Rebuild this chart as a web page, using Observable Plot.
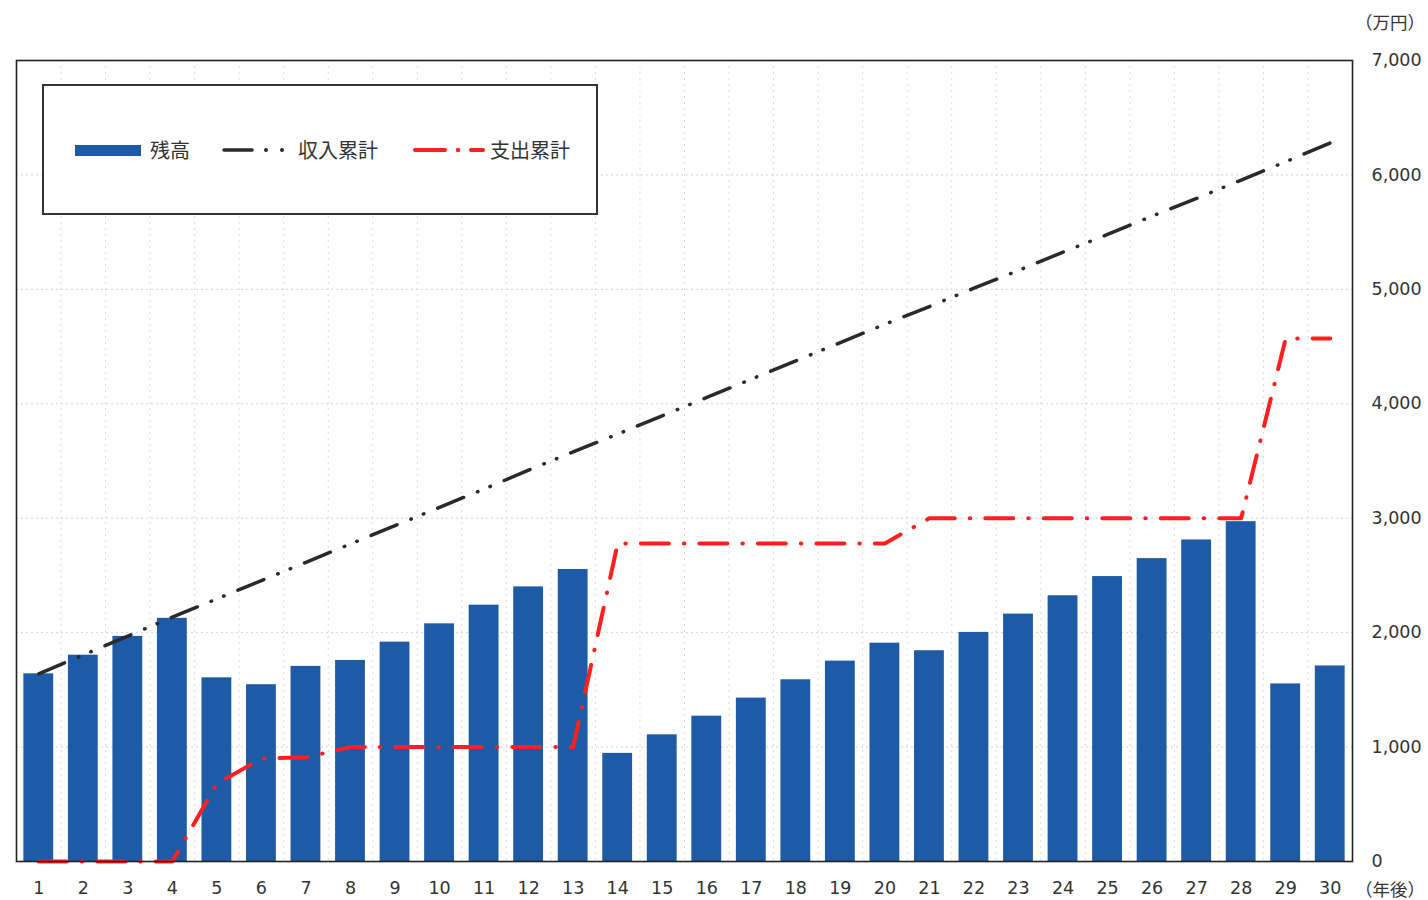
<!DOCTYPE html>
<html>
<head>
<meta charset="utf-8">
<script src="https://cdn.jsdelivr.net/npm/d3@7"></script>
<script src="https://cdn.jsdelivr.net/npm/@observablehq/plot@0.6"></script>
<style>
  html, body { margin: 0; padding: 0; background: #fff; overflow: hidden; }
  #wrap { position: relative; width: 1428px; height: 900px; overflow: hidden; }
  .unit { position: absolute; font-family: "Noto Sans CJK JP", sans-serif; font-size: 17.5px; line-height: 24px; color: #333; white-space: nowrap; }
  #legend { position: absolute; left: 42px; top: 84px; width: 552px; height: 127px; border: 2px solid #333; background: #fff; font-family: "Noto Sans CJK JP", sans-serif; font-size: 20px; color: #333; }
  #legend .item { position: absolute; top: 50px; line-height: 28px; white-space: nowrap; }
  #legend svg { position: absolute; }
</style>
</head>
<body>
<div id="wrap">
  <div id="chart"></div>
  <div id="legend"></div>
  <div class="unit" style="left:1355px; top:10px;">（万円）</div>
  <div class="unit" style="left:1355px; top:877px;">（年後）</div>
</div>
<script>
const years = [1,2,3,4,5,6,7,8,9,10,11,12,13,14,15,16,17,18,19,20,21,22,23,24,25,26,27,28,29,30];
const balance = [1640,1803,1967,2125,1605,1545,1705,1757,1917,2077,2240,2400,2552,945,1107,1270,1428,1588,1751,1908,1842,2002,2162,2322,2490,2647,2810,2970,1552,1709];
const incomeCum = [1640,1805,1970,2135,2295,2455,2615,2775,2935,3095,3255,3420,3580,3735,3895,4055,4215,4375,4535,4695,4850,5010,5165,5325,5480,5640,5795,5955,6115,6280];
const expenseCum = [0,0,0,0,680,900,910,1000,1000,1000,1000,1000,1000,2780,2780,2780,2780,2780,2780,2780,3000,3000,3000,3000,3000,3000,3000,3000,4570,4570];
const yTicks = [0,1000,2000,3000,4000,5000,6000,7000];
const seriesNames = ["残高", "収入累計", "支出累計"];
const colors = {bar: "#1d5ba6", income: "#2a2a2a", expense: "#ff1f1f"};

const data = years.map((y, i) => ({year: y, balance: balance[i], income: incomeCum[i], expense: expenseCum[i]}));

const W = 1428, H = 900;
const mL = 16, mR = 76, mT = 60, mB = 39;
const step = (W - mL - mR) / years.length;
const inset = step * 0.165;

const chart = Plot.plot({
  width: W, height: H,
  marginLeft: mL, marginRight: mR, marginTop: mT, marginBottom: mB,
  style: {fontFamily: "DejaVu Sans, sans-serif", fontSize: "17.5px", color: "#333", background: "#fff"},
  x: {type: "band", domain: years, padding: 0, round: false},
  y: {domain: [0, 7000]},
  marks: [
    Plot.gridY(yTicks, {stroke: "#d4d4d4", strokeOpacity: 1, strokeDasharray: "2 3"}),
    Plot.gridX(years.slice(0, -1), {stroke: "#dcdcdc", strokeOpacity: 1, strokeDasharray: "2 4", dx: step / 2}),
    Plot.barY(data, {x: "year", y: "balance", fill: colors.bar, insetLeft: inset, insetRight: inset}),
    Plot.line(data, {x: "year", y: "income", stroke: colors.income, strokeWidth: 3.5,
      strokeDasharray: "28 15 0.5 13 0.5 15", strokeLinecap: "round"}),
    Plot.line(data, {x: "year", y: "expense", stroke: colors.expense, strokeWidth: 4,
      strokeDasharray: "28 15 0.5 15", strokeLinecap: "round"}),
    Plot.frame({stroke: "#222", strokeWidth: 1.6}),
    Plot.axisX({tickSize: 0, tickPadding: 20, label: null}),
    Plot.axisY(yTicks, {anchor: "right", tickSize: 0, tickPadding: 19, label: null, tickFormat: d3.format(",")})
  ]
});
document.getElementById("chart").appendChild(chart);

// legend
const lg = document.getElementById("legend");
function addItem(svgInner, svgLeft, svgWidth, text, textLeft) {
  const s = document.createElementNS("http://www.w3.org/2000/svg", "svg");
  s.setAttribute("width", svgWidth); s.setAttribute("height", 20);
  s.style.left = svgLeft + "px"; s.style.top = "54px";
  s.innerHTML = svgInner;
  lg.appendChild(s);
  const t = document.createElement("div");
  t.className = "item"; t.style.left = textLeft + "px"; t.textContent = text;
  lg.appendChild(t);
}
addItem(`<rect x="0" y="5" width="66" height="11" fill="${colors.bar}"/>`, 31, 70, seriesNames[0], 106);
addItem(`<line x1="2" y1="10" x2="30" y2="10" stroke="${colors.income}" stroke-width="3.5" stroke-linecap="round"/>
  <circle cx="44" cy="10" r="2" fill="${colors.income}"/><circle cx="60" cy="10" r="2" fill="${colors.income}"/>`, 178, 70, seriesNames[1], 254);
addItem(`<line x1="2" y1="10" x2="32" y2="10" stroke="${colors.expense}" stroke-width="4" stroke-linecap="round"/>
  <circle cx="45" cy="10" r="2.2" fill="${colors.expense}"/><line x1="58" y1="10" x2="70" y2="10" stroke="${colors.expense}" stroke-width="4" stroke-linecap="round"/>`, 369, 75, seriesNames[2], 446);
</script>
</body>
</html>
